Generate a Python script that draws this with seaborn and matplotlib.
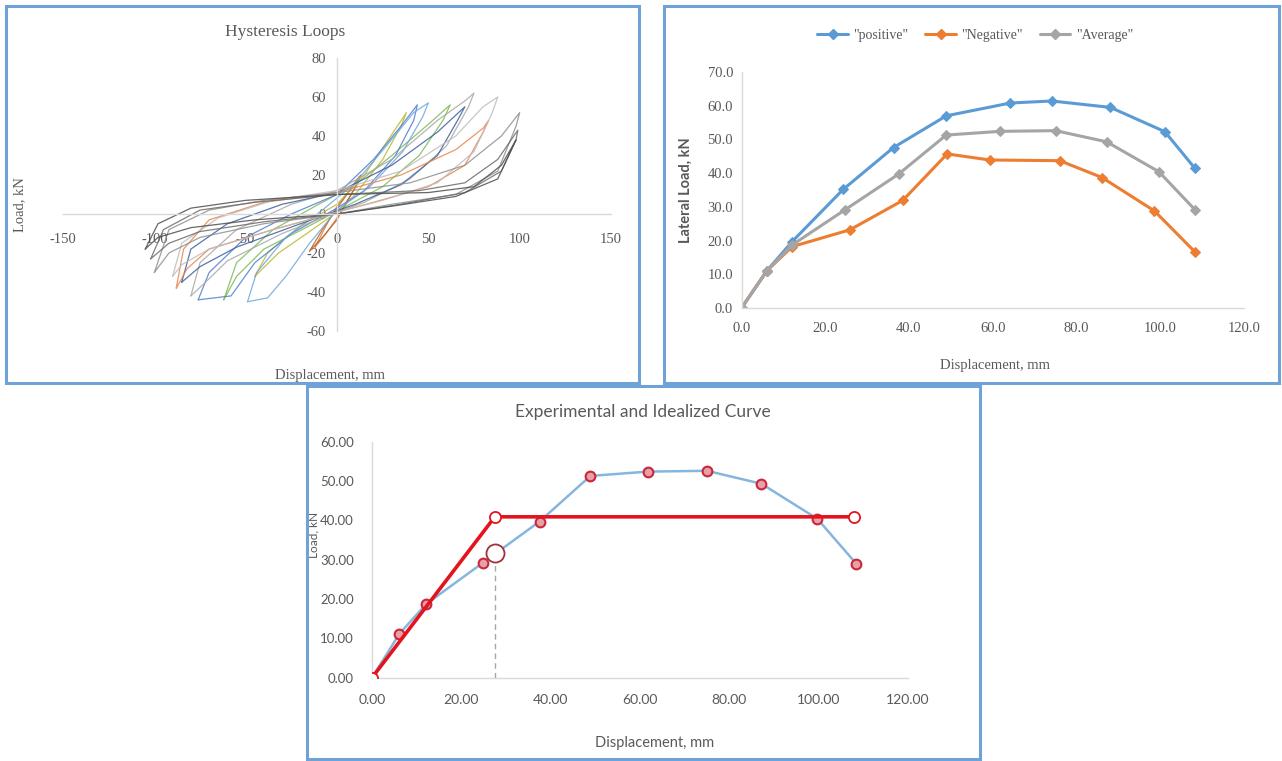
import matplotlib
matplotlib.use('Agg')
import matplotlib.pyplot as plt
from matplotlib.patches import Rectangle
from matplotlib.lines import Line2D
import seaborn as sns

# ---------------- data ----------------
# hysteresis loops (displacement mm, load kN), one closed path per cycle
loop_colors = ['#E07B39', '#B8632A', '#BDB830', '#7DB957', '#4F7FD0', '#6FA8DC',
               '#A8A8A8', '#3B5FA0', '#E8864A', '#BDBDBD', '#8F8F8F', '#6B6B6B', '#4D4D4D']
loop_disp = [
    [-12, -6, 0, 6, 12, 10, 5, 0, -6, -12],
    [-15, -8, 0, 7, 13, 11, 5, 0, -8, -15],
    [-45, -38, -20, 0, 15, 28, 38, 35, 25, 10, 0, -15, -32, -45],
    [-62, -55, -35, -10, 10, 30, 50, 62, 58, 45, 25, 5, -15, -40, -55, -62],
    [-76, -70, -50, -25, 0, 20, 35, 44, 42, 32, 15, 0, -25, -45, -58, -76],
    [-49, -44, -28, -8, 10, 28, 42, 50, 47, 36, 18, 0, -15, -28, -38, -49],
    [-80, -75, -55, -25, 0, 30, 55, 70, 75, 72, 60, 40, 15, 0, -30, -60, -72, -80],
    [-85, -80, -60, -30, 0, 30, 55, 70, 66, 55, 35, 10, -20, -55, -75, -85],
    [-88, -84, -70, -40, 0, 35, 65, 80, 83, 80, 70, 50, 20, 0, -35, -70, -82, -88],
    [-90, -85, -65, -35, 0, 35, 65, 80, 88, 85, 75, 55, 25, 0, -35, -70, -85, -90],
    [-100, -92, -70, -40, 0, 40, 70, 90, 100, 98, 88, 65, 30, 0, -40, -75, -92, -100],
    [-102, -95, -75, -45, 0, 45, 70, 88, 99, 98, 90, 70, 35, 0, -40, -75, -92, -102],
    [-105, -98, -80, -50, 0, 50, 75, 90, 98, 96, 88, 65, 30, 0, -45, -80, -98, -105],
]
loop_load = [
    [-17, -6, 4, 11, 19, 14, 5, -2, -10, -17],
    [-19, -8, 3, 12, 20, 15, 6, -3, -12, -19],
    [-32, -20, -6, 5, 20, 38, 52, 45, 28, 10, 1, -9, -20, -32],
    [-44, -25, -8, 5, 15, 30, 46, 56, 48, 30, 14, 4, -6, -18, -32, -44],
    [-44, -30, -12, 0, 10, 28, 45, 56, 48, 30, 12, 3, -10, -25, -42, -44],
    [-45, -30, -12, 2, 16, 36, 52, 57, 50, 32, 14, 2, -15, -32, -43, -45],
    [-42, -25, -8, 5, 12, 28, 48, 58, 62, 55, 35, 18, 6, 1, -10, -24, -35, -42],
    [-35, -18, -5, 5, 11, 25, 42, 55, 48, 30, 15, 5, -5, -17, -27, -35],
    [-38, -18, -3, 6, 11, 20, 33, 44, 48, 42, 25, 14, 6, 1, -8, -18, -28, -38],
    [-32, -15, -2, 7, 12, 22, 40, 55, 60, 52, 32, 16, 7, 1, -8, -18, -26, -32],
    [-30, -8, 2, 7, 11, 16, 25, 40, 52, 45, 22, 10, 5, 0, -5, -12, -20, -30],
    [-23, -8, 2, 6, 10, 12, 16, 28, 43, 38, 22, 11, 5, 0, -4, -9, -15, -23],
    [-18, -5, 3, 7, 10, 11, 14, 25, 38, 34, 18, 9, 4, 0, -3, -7, -12, -18],
]

# envelope curves
pos_disp = [0, 6.1, 12.1, 24.3, 36.3, 48.9, 64.2, 74.1, 88.1, 101.1, 108.3]
pos_load = [0, 11.1, 19.7, 35.2, 47.6, 57.0, 60.8, 61.4, 59.5, 52.3, 41.4]
neg_disp = [0, 6.1, 12.1, 25.9, 38.5, 49.1, 59.3, 76.0, 86.1, 98.6, 108.4]
neg_load = [0, 11.1, 18.2, 23.2, 31.9, 45.7, 43.9, 43.7, 38.7, 28.8, 16.5]
avg_disp = [0, 6.1, 12.1, 24.8, 37.5, 48.9, 61.8, 75.0, 87.2, 99.7, 108.4]
avg_load = [0, 11.1, 18.7, 29.2, 39.7, 51.3, 52.4, 52.6, 49.3, 40.4, 29.0]

# idealized bilinear curve
ideal_disp = [0, 27.5, 108.0]
ideal_load = [0, 40.9, 40.9]
yield_disp = 27.5
yield_load = 31.6

# ---------------- style ----------------
sns.set_theme(style='white')
plt.rcParams['font.family'] = ['Liberation Serif', 'DejaVu Serif']
plt.rcParams['axes.unicode_minus'] = False
txt = '#595959'
axis_col = '#D9D9D9'
border = '#6FA3D8'

W, H = 1282, 761
fig = plt.figure(figsize=(W / 100, H / 100), dpi=100)


def px_axes(x0, x1, y_top, y_bot):
    return fig.add_axes([x0 / W, 1 - y_bot / H, (x1 - x0) / W, (y_bot - y_top) / H])


def panel_box(x0, y0, x1, y1):
    fig.patches.append(Rectangle((x0 / W, 1 - y1 / H), (x1 - x0) / W, (y1 - y0) / H,
                                 transform=fig.transFigure, fill=False,
                                 edgecolor=border, lw=2.2, zorder=10))


def clean(ax):
    for s in ['top', 'right']:
        ax.spines[s].set_visible(False)
    for s in ['left', 'bottom']:
        ax.spines[s].set_color(axis_col)
        ax.spines[s].set_linewidth(1.0)
    ax.set_facecolor('none')
    ax.grid(False)


panel_box(6, 6, 639, 383)
panel_box(664, 6, 1279, 383)
panel_box(307, 386, 980, 759)

# ---------------- panel 1: hysteresis loops ----------------
ax1 = px_axes(63, 611, 58, 331)
for c, xs, ys in zip(loop_colors, loop_disp, loop_load):
    sns.lineplot(x=xs, y=ys, sort=False, estimator=None, color=c, lw=0.9,
                 alpha=0.85, ax=ax1)
ax1.set_xlim(-150, 150)
ax1.set_ylim(-60, 80)
clean(ax1)
ax1.spines['left'].set_position(('data', 0))
ax1.spines['bottom'].set_position(('data', 0))
ax1.set_xticks([-150, -100, -50, 0, 50, 100, 150])
ax1.set_yticks([-60, -40, -20, 0, 20, 40, 60, 80])
ax1.tick_params(axis='x', length=0, pad=14, labelsize=10.5, labelcolor=txt)
ax1.tick_params(axis='y', length=0, pad=8, labelsize=10.5, labelcolor=txt)
fig.text(285 / W, 1 - 32 / H, 'Hysteresis Loops', ha='center', va='center',
         fontsize=12.5, color=txt)
fig.text(20 / W, 1 - 205 / H, 'Load, kN', ha='center', va='center', rotation=90,
         fontsize=10.5, color=txt)
fig.text(330 / W, 1 - 376 / H, 'Displacement, mm', ha='center', va='center',
         fontsize=10.5, color=txt)

# ---------------- panel 2: envelope curves ----------------
ax2 = px_axes(741.5, 1244, 72, 308)
mk = dict(marker='D', markersize=5, lw=2.2)
sns.lineplot(x=pos_disp, y=pos_load, sort=False, estimator=None, color='#5B9BD5',
             markeredgecolor='#5B9BD5', ax=ax2, **mk)
sns.lineplot(x=neg_disp, y=neg_load, sort=False, estimator=None, color='#ED7D31',
             markeredgecolor='#ED7D31', ax=ax2, **mk)
sns.lineplot(x=avg_disp, y=avg_load, sort=False, estimator=None, color='#A5A5A5',
             markeredgecolor='#A5A5A5', ax=ax2, **mk)
ax2.set_xlim(0, 120)
ax2.set_ylim(0, 70)
clean(ax2)
ax2.set_xticks(range(0, 121, 20))
ax2.set_xticklabels([f'{v:.1f}' for v in range(0, 121, 20)])
ax2.set_yticks(range(0, 71, 10))
ax2.set_yticklabels([f'{v:.1f}' for v in range(0, 71, 10)])
ax2.tick_params(axis='x', length=0, pad=10, labelsize=10.5, labelcolor=txt)
ax2.tick_params(axis='y', length=0, pad=6, labelsize=10.5, labelcolor=txt)
handles = [Line2D([], [], color=c, marker='D', markersize=5, lw=2.2)
           for c in ['#5B9BD5', '#ED7D31', '#A5A5A5']]
ax2.legend(handles, ['"positive"', '"Negative"', '"Average"'], loc='center',
           bbox_to_anchor=(0.465, 1.155), ncol=3, frameon=False, fontsize=10,
           handlelength=2.2, columnspacing=1.2, handletextpad=0.4,
           labelcolor=txt)
fig.text(686 / W, 1 - 190 / H, 'Lateral Load, kN', ha='center', va='center',
         rotation=90, fontsize=10.5, color=txt, family='Lato', fontweight='bold')
fig.text(995 / W, 1 - 366 / H, 'Displacement, mm', ha='center', va='center',
         fontsize=10.5, color=txt)

# ---------------- panel 3: experimental vs idealized ----------------
ax3 = px_axes(372, 908, 441.7, 677.7)
sns.lineplot(x=avg_disp, y=avg_load, sort=False, estimator=None, color='#86B6DD',
             lw=1.8, marker='o', markersize=7, markerfacecolor='#E8A0A8',
             markeredgecolor='#C8283A', markeredgewidth=1.5, ax=ax3, zorder=3)
sns.lineplot(x=ideal_disp, y=ideal_load, sort=False, estimator=None, color='#E3141E',
             lw=2.6, marker='o', markersize=8, markerfacecolor='white',
             markeredgecolor='#E3141E', markeredgewidth=1.3, ax=ax3, zorder=4)
ax3.plot([yield_disp, yield_disp], [0, yield_load], ls=(0, (4, 3)), color='#A6A6A6',
         lw=1.0, zorder=2)
ax3.plot([yield_disp], [yield_load], marker='o', markersize=13,
         markerfacecolor='white', markeredgecolor='#A0303A', markeredgewidth=1.3,
         zorder=5)
ax3.set_xlim(0, 120)
ax3.set_ylim(0, 60)
clean(ax3)
ax3.set_xticks(range(0, 121, 20))
ax3.set_xticklabels([f'{v:.2f}' for v in range(0, 121, 20)], family='Lato')
ax3.set_yticks(range(0, 61, 10))
ax3.set_yticklabels([f'{v:.2f}' for v in range(0, 61, 10)], family='Lato')
ax3.tick_params(axis='x', length=0, pad=12, labelsize=10, labelcolor=txt)
ax3.tick_params(axis='y', length=0, pad=13, labelsize=9.5, labelcolor=txt)
fig.text(643 / W, 1 - 412 / H, 'Experimental and Idealized Curve', ha='center',
         va='center', fontsize=12.5, color=txt, family='Lato')
fig.text(314 / W, 1 - 535 / H, 'Load, kN', ha='center', va='center', rotation=90,
         fontsize=8.5, color=txt, family='Lato')
fig.text(655 / W, 1 - 743 / H, 'Displacement, mm', ha='center', va='center',
         fontsize=10.5, color=txt, family='Lato')

fig.savefig('out.png', dpi=100)
